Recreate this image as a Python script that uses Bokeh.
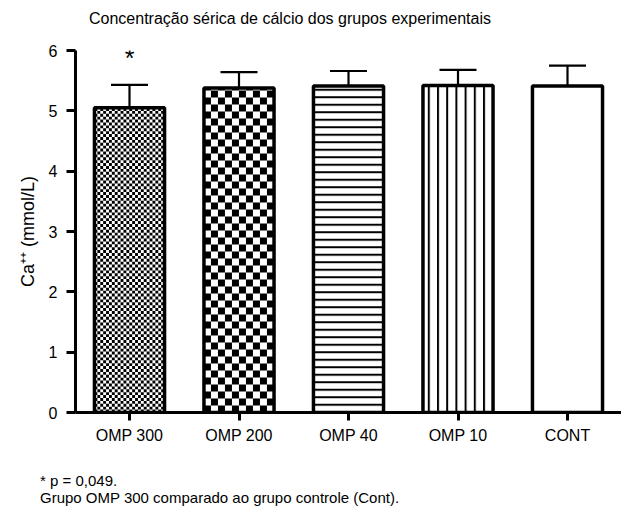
import math
from bokeh.plotting import figure
from bokeh.layouts import column
from bokeh.models import FixedTicker, Range1d, Label, Whisker, TeeHead, ColumnDataSource, Div
from bokeh.embed import file_html
from bokeh.resources import INLINE

# ---- data ----
groups = ["OMP 300", "OMP 200", "OMP 40", "OMP 10", "CONT"]
means = [5.05, 5.38, 5.41, 5.42, 5.41]
sems = [0.38, 0.26, 0.25, 0.26, 0.34]
y_ticks = [0, 1, 2, 3, 4, 5, 6]
sig_marks = ["*", "", "", "", ""]
title_text = "Concentração sérica de cálcio dos grupos experimentais"
y_label = "Ca\u207a\u207a (mmol/L)"
footnotes = ["* p = 0,049.", "Grupo OMP 300 comparado ao grupo controle (Cont)."]

# ---- styles ----
fill_kind = ["checker", "checker", "-", "|", " "]
checker_px = [2.9, 7.0, 0, 0, 0]
hatch_scale = [1, 1, 7.5, 9.2, 1]
hatch_weight = [1, 1, 2, 2, 1]
FONT = "Liberation Sans"
BAR_W = 0.64

xs = list(range(1, len(groups) + 1))
upper = [m + s for m, s in zip(means, sems)]

PAGE_W, PAGE_H = 621, 507
TOP_H = 40          # title strip
MID_H = 420         # main plot strip
BOT_H = PAGE_H - TOP_H - MID_H

# ---- title strip ----
t = Div(text=title_text, width=580, height=TOP_H, margin=0,
        styles={"font-family": FONT, "font-size": "16px", "line-height": "18px",
                "color": "black", "text-align": "center", "padding-top": "10px",
                "box-sizing": "border-box", "white-space": "nowrap"})

# ---- main plot ----
MW = PAGE_W
FL, FR, FT, FB = 75, MW, 10, 372
X0 = 1 - 54 / 109.5
X1 = 1 + (621 - 129) / 109.5
Y0, Y1 = 0, 6
PXX = (FR - FL) / (X1 - X0)
PXY = (FB - FT) / (Y1 - Y0)

p = figure(width=MW, height=MID_H, output_backend="svg", toolbar_location=None,
           x_range=Range1d(X0, X1), y_range=Range1d(Y0, Y1), title=None,
           min_border_left=FL, min_border_right=MW - FR, min_border_top=FT,
           min_border_bottom=MID_H - FB)
p.outline_line_color = None
p.xgrid.visible = False
p.ygrid.visible = False
p.background_fill_color = "white"
p.border_fill_color = "white"

for i in range(len(groups)):
    kind = fill_kind[i]
    if kind == "checker":
        p.vbar(x=[xs[i]], top=[means[i]], bottom=0, width=BAR_W,
               fill_color="white", line_color=None)
        cx = checker_px[i] / PXX
        cy = checker_px[i] / PXY
        left = xs[i] - BAR_W / 2
        right = xs[i] + BAR_W / 2
        ncol = int(math.ceil((right - left) / cx))
        nrow = int(math.ceil(means[i] / cy))
        L, R, B, T = [], [], [], []
        for r in range(nrow):
            for c in range(ncol):
                if (r + c) % 2 == 0:
                    L.append(left + c * cx)
                    R.append(min(left + (c + 1) * cx, right))
                    B.append(r * cy)
                    T.append(min((r + 1) * cy, means[i]))
        p.quad(left=L, right=R, bottom=B, top=T, fill_color="black", line_color=None)
    else:
        p.vbar(x=[xs[i]], top=[means[i]], bottom=0, width=BAR_W,
               fill_color="white", line_color=None,
               hatch_pattern=kind, hatch_scale=hatch_scale[i],
               hatch_weight=hatch_weight[i], hatch_color="black")
    p.vbar(x=[xs[i]], top=[means[i]], bottom=0, width=BAR_W,
           fill_color=None, line_color="black", line_width=3.5)

src = ColumnDataSource(dict(x=xs, lo=means, hi=upper))
p.add_layout(Whisker(source=src, base="x", lower="lo", upper="hi", dimension="height",
                     line_width=2.2, line_color="black", lower_head=None,
                     upper_head=TeeHead(size=37, line_width=2.2, line_color="black")))

for i, s in enumerate(sig_marks):
    if s:
        p.add_layout(Label(x=xs[i], y=upper[i] + 0.45, text=s, text_align="center",
                           text_baseline="alphabetic", text_font=FONT,
                           text_font_size="25px", text_color="black"))

for ax, ticks in ((p.xaxis, xs), (p.yaxis, y_ticks)):
    ax.ticker = FixedTicker(ticks=ticks)
    ax.axis_line_width = 3
    ax.axis_line_color = "black"
    ax.major_tick_line_width = 3
    ax.major_tick_line_color = "black"
    ax.major_tick_in = 0
    ax.minor_tick_out = 0
    ax.minor_tick_in = 0
    ax.major_label_text_font = FONT
    ax.major_label_text_font_size = "16px"
    ax.major_label_text_color = "black"

p.xaxis.major_tick_out = 8
p.xaxis.major_label_standoff = 6
p.xaxis.major_label_overrides = {x: g for x, g in zip(xs, groups)}
p.yaxis.major_tick_out = 9
p.yaxis.major_label_standoff = 9
p.yaxis.axis_label = y_label
p.yaxis.axis_label_text_font = FONT
p.yaxis.axis_label_text_font_size = "18px"
p.yaxis.axis_label_text_font_style = "normal"
p.yaxis.axis_label_text_color = "black"
p.yaxis.axis_label_standoff = 8

# ---- footnote strip ----
b = Div(text="<br>".join(footnotes), width=PAGE_W, height=BOT_H, margin=0,
        styles={"font-family": FONT, "font-size": "15px", "line-height": "17px",
                "color": "black", "padding-left": "40px", "padding-top": "12px",
                "box-sizing": "border-box", "white-space": "nowrap"})

layout = column(t, p, b)
open("out.html", "w").write(file_html(layout, INLINE))
